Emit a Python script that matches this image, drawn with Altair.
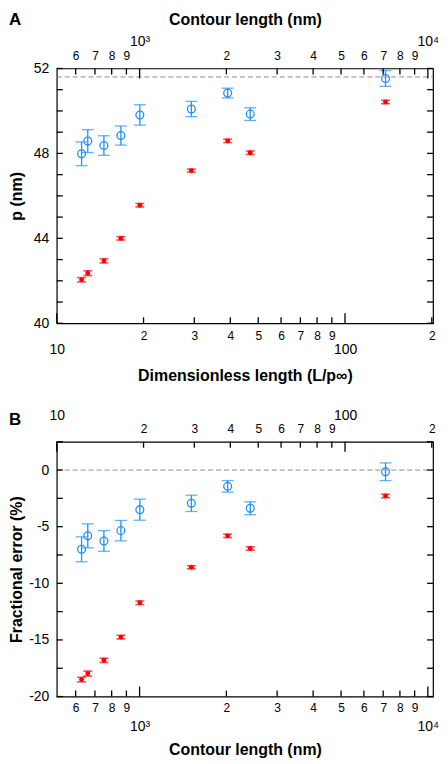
import altair as alt
import pandas as pd

FONT = "Liberation Sans"
BLUE = "#1E90FF"
RED = "#FF0000"
TICK_COLOR = "black"
W, H = 378, 256
P_INF = 51.6
TICK_MINOR, TICK_MAJOR = 6, 10  # tick lengths in pixels

# ---- data ----
contour_nm = [629, 661, 752, 861, 1002, 1512, 2021, 2420, 7131]
p_blue = [47.98, 48.58, 48.37, 48.84, 49.81, 50.09, 50.84, 49.85, 51.53]
p_blue_err = [0.56, 0.54, 0.46, 0.45, 0.48, 0.36, 0.23, 0.30, 0.37]
p_red = [42.05, 42.36, 42.94, 44.00, 45.56, 47.19, 48.59, 48.03, 50.42]
p_red_err = [0.10, 0.11, 0.10, 0.08, 0.08, 0.07, 0.08, 0.08, 0.08]
fe_blue = [-7.00, -5.81, -6.26, -5.35, -3.50, -2.94, -1.44, -3.38, -0.15]
fe_blue_err = [1.10, 1.06, 0.91, 0.90, 0.93, 0.72, 0.51, 0.57, 0.78]
fe_red = [-18.50, -17.97, -16.80, -14.75, -11.72, -8.58, -5.81, -6.93, -2.29]
fe_red_err = [0.20, 0.22, 0.19, 0.16, 0.16, 0.13, 0.15, 0.15, 0.15]

dim_domain = [10, 202]
contour_domain = [dim_domain[0] * P_INF, dim_domain[1] * P_INF]
dim_minor = [20, 30, 40, 50, 60, 70, 80, 90, 200]
dim_major = [10, 100]
contour_minor = [600, 700, 800, 900, 2000, 3000, 4000, 5000, 6000, 7000, 8000, 9000]
contour_major = [1000, 10000]
pA_domain = [40, 52]
pA_ticks = list(range(40, 53))
fe_domain = [-20, 2.5]
fe_ticks = [-20, -17.5, -15, -12.5, -10, -7.5, -5, -2.5, 0, 2.5]


def long_df(blue, blue_err, red, red_err):
    rows = []
    for L, v, e in zip(contour_nm, blue, blue_err):
        rows.append(dict(L=L, val=v, lo=v - e, hi=v + e, series="blue"))
    for L, v, e in zip(contour_nm, red, red_err):
        rows.append(dict(L=L, val=v, lo=v - e, hi=v + e, series="red"))
    return pd.DataFrame(rows)


dfA = long_df(p_blue, p_blue_err, p_red, p_red_err)
dfB = long_df(fe_blue, fe_blue_err, fe_red, fe_red_err)

xs_data = alt.Scale(type="log", domain=contour_domain, nice=False)
xs_dim = alt.Scale(type="log", domain=dim_domain, nice=False)

common_axis = dict(domain=False, grid=False, ticks=False, tickSize=0, offset=0,
                   labelFont=FONT, labelColor="black", labelFlush=False,
                   labelOverlap=False, labelBound=False, titleFont=FONT,
                   titleColor="black", titleFontWeight="bold", titleFontSize=16)


def x_axis_layer(dummy, ys, kind, orient, major, labelPadding, title=None, titleY=None):
    if kind == "dim":
        field, scale = "dim", xs_dim
        if major:
            values = dim_major
            lab = "format(datum.value, 'd')"
        else:
            values = dim_minor
            lab = "format(datum.value < 100 ? datum.value / 10 : datum.value / 100, 'd')"
    else:
        field, scale = "L", xs_data
        if major:
            values = contour_major
            lab = "datum.value < 5000 ? '10\u00b3' : '10\u2074'"
        else:
            values = contour_minor
            lab = "format(datum.value < 1000 ? datum.value / 100 : datum.value / 1000, 'd')"
    kw = dict(common_axis)
    kw.update(orient=orient, values=values, labelExpr=lab,
              labelPadding=labelPadding, labelFontSize=14 if major else 12)
    kw["title"] = title
    if titleY is not None:
        kw["titleY"] = titleY
    return alt.Chart(dummy).mark_point(opacity=0).encode(
        x=alt.X(f"{field}:Q", scale=scale, axis=alt.Axis(**kw)),
        y=alt.Y("v:Q", scale=ys, axis=None))


def y_axis_layer(dummy, ys, values, lab, title, titleX):
    kw = dict(common_axis)
    kw.update(orient="left", values=values, labelFontSize=14, labelPadding=8,
              labelExpr=lab, title=title, titleX=titleX)
    return alt.Chart(dummy).mark_point(opacity=0).encode(
        x=alt.X("L:Q", scale=xs_data, axis=None),
        y=alt.Y("v:Q", scale=ys, axis=alt.Axis(**kw)))


def x_ticks(values, kind, ys, ydomain, edge, length):
    scale = xs_dim if kind == "dim" else xs_data
    span = (ydomain[1] - ydomain[0]) * length / H
    if edge == "bottom":
        v0, v1 = ydomain[0], ydomain[0] + span
    else:
        v0, v1 = ydomain[1], ydomain[1] - span
    d = pd.DataFrame({"t": values, "v0": [v0] * len(values), "v1": [v1] * len(values)})
    return alt.Chart(d).mark_rule(color=TICK_COLOR, strokeWidth=1.3).encode(
        x=alt.X("t:Q", scale=scale, axis=None),
        y=alt.Y("v0:Q", scale=ys, axis=None), y2="v1:Q")


def y_ticks(values, ys, edge, length=TICK_MINOR):
    lo, hi = contour_domain
    f = (hi / lo) ** (length / W)
    if edge == "left":
        a, b = lo, lo * f
    else:
        a, b = hi, hi / f
    d = pd.DataFrame({"t": values, "a": [a] * len(values), "b": [b] * len(values)})
    return alt.Chart(d).mark_rule(color=TICK_COLOR, strokeWidth=1.3).encode(
        x=alt.X("a:Q", scale=xs_data, axis=None), x2="b:Q",
        y=alt.Y("t:Q", scale=ys, axis=None))


def data_layers(df, ys):
    x = alt.X("L:Q", scale=xs_data, axis=None)
    layers = []
    for s, color, cap, sw in [("blue", BLUE, 12, 1.3), ("red", RED, 9, 1.6)]:
        base = alt.Chart(df).transform_filter(alt.datum.series == s)
        layers.append(base.mark_rule(color=color, strokeWidth=sw).encode(
            x=x, y=alt.Y("lo:Q", scale=ys, axis=None), y2="hi:Q"))
        layers.append(base.mark_tick(orient="horizontal", color=color, size=cap,
                                     thickness=sw).encode(
            x=x, y=alt.Y("lo:Q", scale=ys, axis=None)))
        layers.append(base.mark_tick(orient="horizontal", color=color, size=cap,
                                     thickness=sw).encode(
            x=x, y=alt.Y("hi:Q", scale=ys, axis=None)))
        if s == "blue":
            layers.append(base.mark_point(shape="circle", filled=False, color=color,
                                          size=62, strokeWidth=1.3, opacity=1).encode(
                x=x, y=alt.Y("val:Q", scale=ys, axis=None)))
        else:
            layers.append(base.mark_point(shape="circle", filled=True, color=color,
                                          size=24, opacity=1).encode(
                x=x, y=alt.Y("val:Q", scale=ys, axis=None)))
    return layers


def ref_rule(value, ys):
    ref = pd.DataFrame({"v": [value], "L0": [contour_domain[0]], "L1": [contour_domain[1]]})
    return alt.Chart(ref).mark_rule(
        color="#8c8c8c", strokeDash=[5, 3], strokeWidth=1).encode(
        x=alt.X("L0:Q", scale=xs_data, axis=None), x2="L1:Q",
        y=alt.Y("v:Q", scale=ys, axis=None))


def dummy_df(ydomain):
    return pd.DataFrame({"dim": dim_domain, "L": contour_domain, "v": ydomain})


def frame_ticks(ys, ydomain, yvalues, bottom_kind, top_kind):
    bm = dim_minor if bottom_kind == "dim" else contour_minor
    bM = dim_major if bottom_kind == "dim" else contour_major
    tm = dim_minor if top_kind == "dim" else contour_minor
    tM = dim_major if top_kind == "dim" else contour_major
    return [
        x_ticks(bm, bottom_kind, ys, ydomain, "bottom", TICK_MINOR),
        x_ticks(bM, bottom_kind, ys, ydomain, "bottom", TICK_MAJOR),
        x_ticks(tm, top_kind, ys, ydomain, "top", TICK_MINOR),
        x_ticks(tM, top_kind, ys, ydomain, "top", TICK_MAJOR),
        y_ticks(yvalues, ys, "left"),
        y_ticks(yvalues, ys, "right"),
    ]


# ---- panel A ----
ysA = alt.Scale(domain=pA_domain, nice=False, zero=False)
dA = dummy_df(pA_domain)
panelA = alt.layer(
    *data_layers(dfA, ysA),
    ref_rule(P_INF, ysA),
    *frame_ticks(ysA, pA_domain, pA_ticks, "dim", "cont"),
    x_axis_layer(dA, ysA, "dim", "bottom", False, 7),
    x_axis_layer(dA, ysA, "dim", "bottom", True, 19,
                 title="Dimensionless length (L/p\u221e)", titleY=44),
    x_axis_layer(dA, ysA, "cont", "top", False, 6),
    x_axis_layer(dA, ysA, "cont", "top", True, 20, title="Contour length (nm)", titleY=-41),
    y_axis_layer(dA, ysA, pA_ticks, "datum.value % 4 == 0 ? '' + datum.value : ''",
                 "p (nm)", -32),
).resolve_scale(x="independent", y="independent").properties(
    width=W, height=H,
    title=alt.TitleParams("A", anchor="start", frame="group", dx=-48, dy=21, fontSize=17,
                          fontWeight="bold", font=FONT, color="black"))

# ---- panel B ----
ysB = alt.Scale(domain=fe_domain, nice=False, zero=False)
dB = dummy_df(fe_domain)
panelB = alt.layer(
    *data_layers(dfB, ysB),
    ref_rule(0, ysB),
    *frame_ticks(ysB, fe_domain, fe_ticks, "cont", "dim"),
    x_axis_layer(dB, ysB, "cont", "bottom", False, 6),
    x_axis_layer(dB, ysB, "cont", "bottom", True, 23, title="Contour length (nm)", titleY=45),
    x_axis_layer(dB, ysB, "dim", "top", False, 6),
    x_axis_layer(dB, ysB, "dim", "top", True, 19),
    y_axis_layer(dB, ysB, fe_ticks, "datum.value % 5 == 0 ? '' + datum.value : ''",
                 "Fractional error (%)", -32),
).resolve_scale(x="independent", y="independent").properties(
    width=W, height=H,
    title=alt.TitleParams("B", anchor="start", frame="group", dx=-48, dy=24, fontSize=17,
                          fontWeight="bold", font=FONT, color="black"))

chart = alt.vconcat(panelA, panelB, spacing=119, bounds="flush").configure_view(
    stroke="black", strokeWidth=1.2).properties(padding=0, background="white")

chart.save("out.html", embed_options={"renderer": "svg", "actions": False})
